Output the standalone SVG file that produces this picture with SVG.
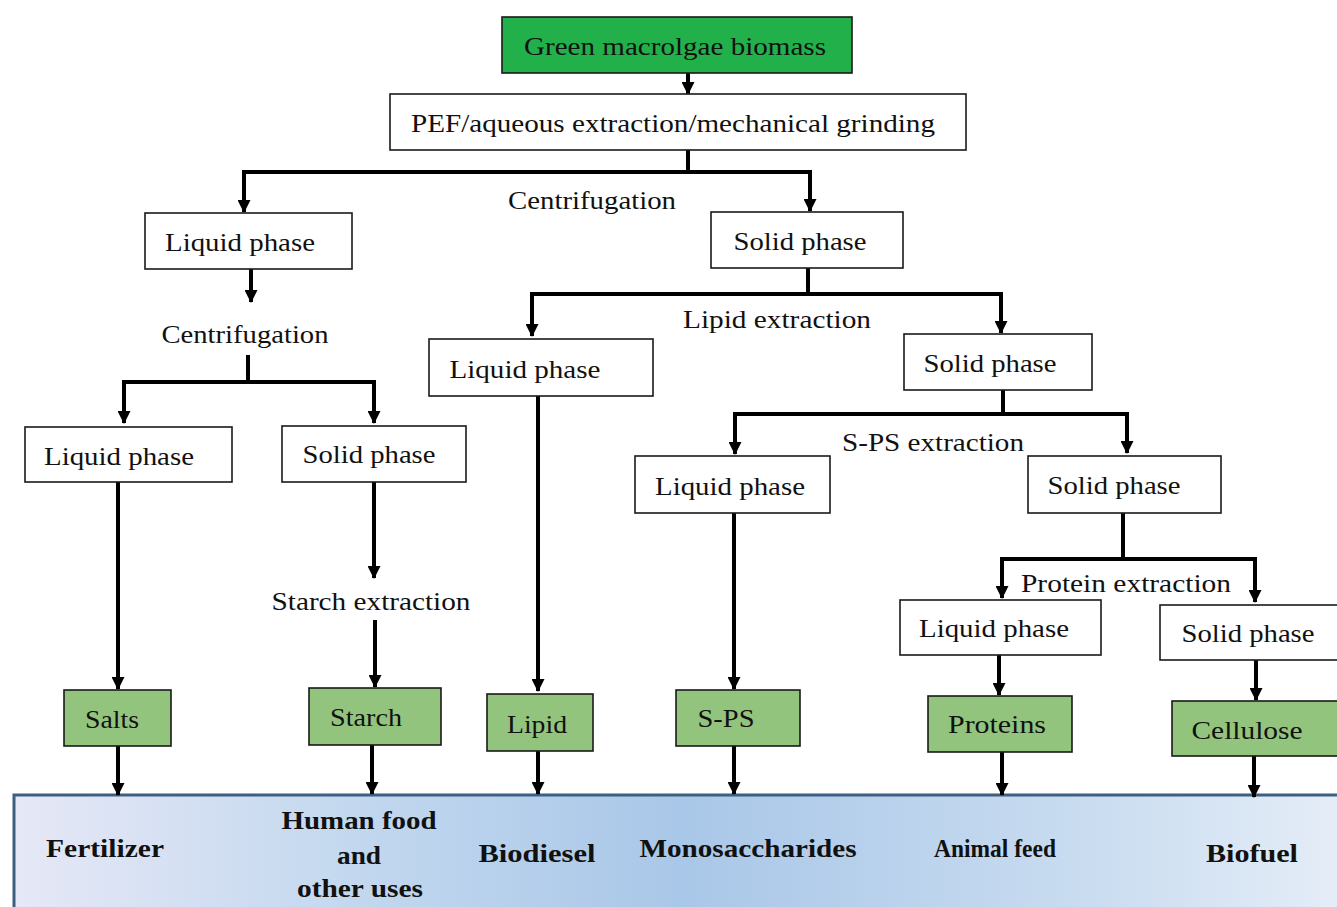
<svg xmlns="http://www.w3.org/2000/svg" width="1337" height="907" viewBox="0 0 1337 907">
<defs>
<linearGradient id="band" x1="0" y1="0" x2="1" y2="0">
<stop offset="0" stop-color="#e6e8f6"/>
<stop offset="0.25" stop-color="#c3d8ef"/>
<stop offset="0.5" stop-color="#a9c7e8"/>
<stop offset="0.8" stop-color="#c9dcf0"/>
<stop offset="1" stop-color="#e6eef8"/>
</linearGradient>
<marker id="ah" markerWidth="13" markerHeight="13" viewBox="0 0 13 13" refX="12" refY="6.5" orient="auto" markerUnits="userSpaceOnUse">
<path d="M0,0 L13,6.5 L0,13 Z" fill="#000"/>
</marker>
<style>
.box{fill:#fff;stroke:#1a1a1a;stroke-width:1.6}
.gbox{fill:#93c47d;stroke:#1a1a1a;stroke-width:1.6}
.t{font-family:"Liberation Serif","Times New Roman",serif;font-size:25px;fill:#111;text-anchor:middle}
.b{font-family:"Liberation Serif","Times New Roman",serif;font-size:25px;font-weight:bold;fill:#111;text-anchor:middle}
.c{fill:none;stroke:#000;stroke-width:4}
.a{fill:none;stroke:#000;stroke-width:4;marker-end:url(#ah)}
</style>
</defs>
<rect width="1337" height="907" fill="#fff"/>

<g id="band-bottom">
<rect x="14" y="795" width="1340" height="130" fill="url(#band)" stroke="#3d5f80" stroke-width="3"/>
<text class="b" x="105" y="857" textLength="118" lengthAdjust="spacingAndGlyphs">Fertilizer</text>
<text class="b" x="359" y="829" textLength="155" lengthAdjust="spacingAndGlyphs">Human food</text>
<text class="b" x="359" y="864" textLength="44" lengthAdjust="spacingAndGlyphs">and</text>
<text class="b" x="360" y="897" textLength="126" lengthAdjust="spacingAndGlyphs">other uses</text>
<text class="b" x="537" y="862" textLength="117" lengthAdjust="spacingAndGlyphs">Biodiesel</text>
<text class="b" x="748" y="857" textLength="217" lengthAdjust="spacingAndGlyphs">Monosaccharides</text>
<text class="b" x="995" y="857" textLength="122" lengthAdjust="spacingAndGlyphs">Animal feed</text>
<text class="b" x="1252" y="862" textLength="92" lengthAdjust="spacingAndGlyphs">Biofuel</text>
</g>

<g id="connectors">
<line class="a" x1="688" y1="73" x2="688" y2="94"/>
<line class="c" x1="688" y1="150" x2="688" y2="172"/>
<line class="c" x1="242" y1="172" x2="812" y2="172"/>
<line class="a" x1="244" y1="170" x2="244" y2="212"/>
<line class="a" x1="810" y1="170" x2="810" y2="211"/>
<line class="a" x1="251" y1="269" x2="251" y2="302"/>
<line class="c" x1="248" y1="355" x2="248" y2="382"/>
<line class="c" x1="122" y1="382" x2="376" y2="382"/>
<line class="a" x1="124" y1="380" x2="124" y2="423"/>
<line class="a" x1="374" y1="380" x2="374" y2="423"/>
<line class="a" x1="118" y1="482" x2="118" y2="689"/>
<line class="a" x1="374" y1="482" x2="374" y2="578"/>
<line class="a" x1="375" y1="620" x2="375" y2="687"/>
<line class="c" x1="808" y1="268" x2="808" y2="294"/>
<line class="c" x1="530" y1="294" x2="1003" y2="294"/>
<line class="a" x1="532" y1="292" x2="532" y2="336"/>
<line class="a" x1="1001" y1="292" x2="1001" y2="333"/>
<line class="a" x1="538" y1="396" x2="538" y2="691"/>
<line class="c" x1="1003" y1="390" x2="1003" y2="414"/>
<line class="c" x1="733" y1="414" x2="1129" y2="414"/>
<line class="a" x1="735" y1="412" x2="735" y2="454"/>
<line class="a" x1="1127" y1="412" x2="1127" y2="453"/>
<line class="a" x1="734" y1="513" x2="734" y2="689"/>
<line class="c" x1="1123" y1="513" x2="1123" y2="559"/>
<line class="c" x1="1000" y1="559" x2="1257" y2="559"/>
<line class="a" x1="1002" y1="557" x2="1002" y2="598"/>
<line class="a" x1="1255" y1="557" x2="1255" y2="602"/>
<line class="a" x1="999" y1="655" x2="999" y2="695"/>
<line class="a" x1="1256" y1="660" x2="1256" y2="700"/>
<line class="a" x1="118" y1="746" x2="118" y2="795"/>
<line class="a" x1="372" y1="745" x2="372" y2="794"/>
<line class="a" x1="538" y1="751" x2="538" y2="794"/>
<line class="a" x1="734" y1="746" x2="734" y2="794"/>
<line class="a" x1="1002" y1="752" x2="1002" y2="795"/>
<line class="a" x1="1254" y1="756" x2="1254" y2="797"/>
</g>

<g id="labels">
<text class="t" x="592" y="209" textLength="168" lengthAdjust="spacingAndGlyphs">Centrifugation</text>
<text class="t" x="245" y="343" textLength="167" lengthAdjust="spacingAndGlyphs">Centrifugation</text>
<text class="t" x="777" y="328" textLength="188" lengthAdjust="spacingAndGlyphs">Lipid extraction</text>
<text class="t" x="933" y="451" textLength="182" lengthAdjust="spacingAndGlyphs">S-PS extraction</text>
<text class="t" x="371" y="610" textLength="199" lengthAdjust="spacingAndGlyphs">Starch extraction</text>
<text class="t" x="1126" y="592" textLength="210" lengthAdjust="spacingAndGlyphs">Protein extraction</text>
</g>

<g id="n-biomass">
<rect x="502" y="17" width="350" height="56" fill="#22b04b" stroke="#1a1a1a" stroke-width="1.6"/>
<text class="t" x="675" y="55" textLength="302" lengthAdjust="spacingAndGlyphs">Green macrolgae biomass</text>
</g>
<g id="n-pef">
<rect class="box" x="390" y="94" width="576" height="56"/>
<text class="t" x="673" y="132" textLength="524" lengthAdjust="spacingAndGlyphs">PEF/aqueous  extraction/mechanical  grinding</text>
</g>
<g id="n-liquid1">
<rect class="box" x="145" y="213" width="207" height="56"/>
<text class="t" x="240" y="251" textLength="150" lengthAdjust="spacingAndGlyphs">Liquid phase</text>
</g>
<g id="n-solid1">
<rect class="box" x="711" y="212" width="192" height="56"/>
<text class="t" x="800" y="250" textLength="133" lengthAdjust="spacingAndGlyphs">Solid phase</text>
</g>
<g id="n-liquid2">
<rect class="box" x="25" y="427" width="207" height="55"/>
<text class="t" x="119" y="465" textLength="150" lengthAdjust="spacingAndGlyphs">Liquid phase</text>
</g>
<g id="n-solid2">
<rect class="box" x="282" y="426" width="184" height="56"/>
<text class="t" x="369" y="463" textLength="133" lengthAdjust="spacingAndGlyphs">Solid phase</text>
</g>
<g id="n-liquid3">
<rect class="box" x="429" y="339" width="224" height="57"/>
<text class="t" x="525" y="378" textLength="151" lengthAdjust="spacingAndGlyphs">Liquid phase</text>
</g>
<g id="n-solid3">
<rect class="box" x="904" y="334" width="188" height="56"/>
<text class="t" x="990" y="372" textLength="133" lengthAdjust="spacingAndGlyphs">Solid phase</text>
</g>
<g id="n-liquid4">
<rect class="box" x="635" y="456" width="195" height="57"/>
<text class="t" x="730" y="495" textLength="150" lengthAdjust="spacingAndGlyphs">Liquid phase</text>
</g>
<g id="n-solid4">
<rect class="box" x="1028" y="456" width="193" height="57"/>
<text class="t" x="1114" y="494" textLength="133" lengthAdjust="spacingAndGlyphs">Solid phase</text>
</g>
<g id="n-liquid5">
<rect class="box" x="900" y="600" width="201" height="55"/>
<text class="t" x="994" y="637" textLength="150" lengthAdjust="spacingAndGlyphs">Liquid phase</text>
</g>
<g id="n-solid5">
<rect class="box" x="1160" y="605" width="190" height="55"/>
<text class="t" x="1248" y="642" textLength="133" lengthAdjust="spacingAndGlyphs">Solid phase</text>
</g>
<g id="n-salts">
<rect class="gbox" x="64" y="690" width="107" height="56"/>
<text class="t" x="112" y="728" textLength="54" lengthAdjust="spacingAndGlyphs">Salts</text>
</g>
<g id="n-starch">
<rect class="gbox" x="309" y="688" width="132" height="57"/>
<text class="t" x="366" y="726" textLength="72" lengthAdjust="spacingAndGlyphs">Starch</text>
</g>
<g id="n-lipid">
<rect class="gbox" x="487" y="694" width="106" height="57"/>
<text class="t" x="537" y="733" textLength="60" lengthAdjust="spacingAndGlyphs">Lipid</text>
</g>
<g id="n-sps">
<rect class="gbox" x="676" y="690" width="124" height="56"/>
<text class="t" x="726" y="727" textLength="57" lengthAdjust="spacingAndGlyphs">S-PS</text>
</g>
<g id="n-proteins">
<rect class="gbox" x="928" y="696" width="144" height="56"/>
<text class="t" x="997" y="733" textLength="98" lengthAdjust="spacingAndGlyphs">Proteins</text>
</g>
<g id="n-cellulose">
<rect class="gbox" x="1172" y="701" width="175" height="55"/>
<text class="t" x="1247" y="739" textLength="111" lengthAdjust="spacingAndGlyphs">Cellulose</text>
</g>
</svg>
